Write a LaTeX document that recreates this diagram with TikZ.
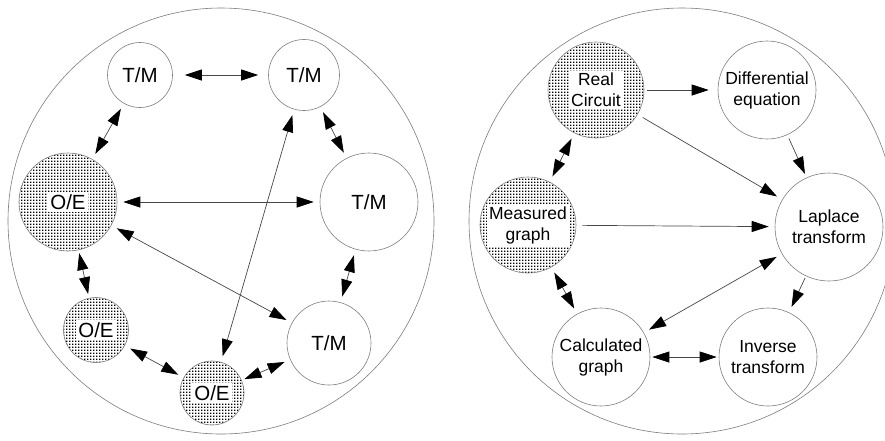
\documentclass[tikz,border=0pt]{standalone}
\usepackage{fontspec}
\setmainfont{Liberation Sans}
\usetikzlibrary{arrows.meta,patterns.meta}
\definecolor{rimgray}{RGB}{125,125,125}
\definecolor{linkgray}{RGB}{70,70,70}
\tikzdeclarepattern{name=screen,type=uncolored,bottom left={(0pt,0pt)},top right={(3pt,3pt)},tile size={(3pt,3pt)},
  code={\pgfpathrectangle{\pgfpointorigin}{\pgfqpoint{1.8pt}{1.8pt}}\pgfusepath{fill}}}

\begin{document}
\begin{tikzpicture}[x=1pt,y=-1pt,
  ring/.style={circle,draw=rimgray,line width=0.6pt,minimum size=#1,inner sep=0pt,align=center},
  dotring/.style={ring=#1,pattern=screen},
  lbl/.style={fill=white,inner sep=2pt,align=center},
  link/.style={draw=linkgray,line width=0.7pt,shorten <=6pt,shorten >=6pt},
  twoway/.style={link,{Triangle[length=17pt,width=11pt,black]}-{Triangle[length=17pt,width=11pt,black]}},
  oneway/.style={link,-{Triangle[length=17pt,width=11pt,black]}}]
\useasboundingbox (0,0) rectangle (885,440);
\clip (0,0) rectangle (885,440);
\draw[rimgray,line width=0.6pt] (221,221) circle[radius=213pt];
\draw[rimgray,line width=0.6pt] (682,221) circle[radius=213pt];

\begin{scope}[font=\fontsize{20.5}{22}\selectfont]
\node[ring=65] (tmA) at (140,75) {T/M};
\node[ring=71] (tmB) at (304,75) {T/M};
\node[ring=98] (tmC) at (369,202) {T/M};
\node[ring=84] (tmD) at (329,343) {T/M};
\node[dotring=98,label={[lbl]center:O/E}] (oeA) at (68,202) {};
\node[dotring=65,label={[lbl]center:O/E}] (oeB) at (96,330) {};
\node[dotring=64,label={[lbl]center:O/E}] (oeC) at (212,393) {};
\end{scope}
\draw[twoway,shorten <=12pt,shorten >=10pt] (tmA) -- (tmB);
\foreach \a/\b in {tmA/oeA,tmB/tmC,oeA/tmC,oeA/tmD,tmB/oeC,tmC/tmD,oeB/oeC}
  \draw[twoway] (\a) -- (\b);
\draw[twoway,shorten <=3pt,shorten >=4pt] (oeA) -- (oeB);
\draw[twoway,shorten <=3pt] (oeC) -- (tmD);

\begin{scope}[font=\fontsize{17.5}{21}\selectfont]
\node[dotring=96,label={[lbl]center:Real\\Circuit}] (real) at (596,90) {};
\node[ring=98] (diff) at (767,90) {Differential\\equation};
\node[ring=108] (lap) at (829,227) {Laplace\\transform};
\node[dotring=96,label={[lbl]center:Measured\\graph}] (meas) at (528,225) {};
\node[ring=98] (calc) at (601,357) {Calculated\\graph};
\node[ring=98] (inv) at (768,357) {Inverse\\transform};
\end{scope}
\draw[oneway,shorten <=3pt,shorten >=9pt] (real) -- (diff);
\draw[oneway,shorten <=4pt,shorten >=4pt] (diff) -- (lap);
\draw[oneway,shorten <=2pt] (lap) -- (inv);
\foreach \a/\b in {real/lap,meas/lap}
  \draw[oneway] (\a) -- (\b);
\foreach \a/\b in {real/meas,meas/calc,calc/lap}
  \draw[twoway] (\a) -- (\b);
\draw[twoway,shorten <=2pt,shorten >=2pt] (calc) -- (inv);
\end{tikzpicture}
\end{document}
